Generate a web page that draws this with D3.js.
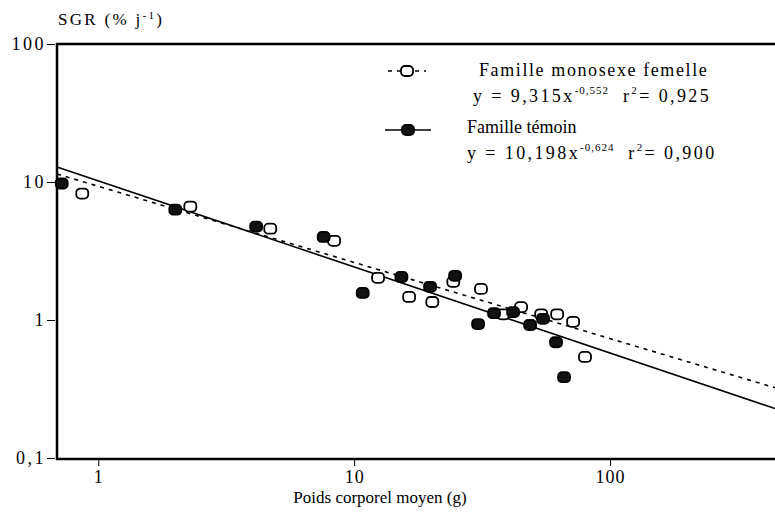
<!DOCTYPE html>
<html>
<head>
<meta charset="utf-8">
<script src="https://cdn.jsdelivr.net/npm/d3@7"></script>
<style>
  body { margin: 0; background: #fff; }
  #chart text, #chart tspan { font-family: "Liberation Serif", "DejaVu Serif", serif; }
</style>
</head>
<body>
<svg id="chart" width="775" height="519"></svg>
<script>
// poids moyen (g) et SGR (% j-1)
const temoinX = [0.72, 2.0, 4.14, 7.6, 10.8, 15.3, 19.8, 24.8, 30.5, 35.2, 41.8, 48.7, 54.7, 61.5, 66.1];
const temoinY = [9.75, 6.3, 4.75, 4.0, 1.57, 2.05, 1.74, 2.09, 0.935, 1.12, 1.14, 0.92, 1.02, 0.69, 0.385];
const femelleX = [0.866, 2.29, 4.7, 8.35, 12.4, 16.4, 20.2, 24.4, 31.3, 38.2, 44.9, 53.8, 62.1, 71.7, 79.8];
const femelleY = [8.25, 6.64, 4.59, 3.75, 2.02, 1.47, 1.35, 1.89, 1.68, 1.1, 1.24, 1.1, 1.1, 0.97, 0.54];

// y = a * x^b
const fitFemelle = { a: 9.315, b: -0.552 };
const fitTemoin = { a: 10.198, b: -0.624 };

const xTicks = [1, 10, 100];
const yTicks = [0.1, 1, 10, 100];
const xDomain = [0.69, 441];
const yDomain = [0.1, 100];

const svg = d3.select("#chart");
const plotLeft = 57, plotRight = 775, plotTop = 44, plotBottom = 458;

const x = d3.scaleLog().domain(xDomain).range([plotLeft, plotRight]);
const y = d3.scaleLog().domain(yDomain).range([plotBottom, plotTop]);
const fmt = d => String(d).replace(".", ",");

// axes
const yAxis = d3.axisLeft(y).tickValues(yTicks).tickFormat(fmt).tickSize(8).tickPadding(1);
const gy = svg.append("g").attr("transform", `translate(${plotLeft - 2},0)`).call(yAxis);
gy.select(".domain").remove();
gy.selectAll("text").style("font-size", "18px").style("letter-spacing", "2.5px");

const xAxis = d3.axisBottom(x).tickValues(xTicks).tickFormat(fmt).tickSize(7).tickPadding(4);
const gx = svg.append("g").attr("transform", `translate(0,${plotBottom + 1})`).call(xAxis);
gx.select(".domain").remove();
gx.selectAll("text").style("font-size", "18px").style("letter-spacing", "1px");

// cadre
svg.append("path")
    .attr("d", `M${plotRight},${plotTop}H${plotLeft}V${plotBottom + 1}H${plotRight}`)
    .attr("fill", "none")
    .attr("stroke", "#000")
    .attr("stroke-width", 2.5);

// titres
const yt = svg.append("text").attr("x", 58).attr("y", 25)
    .style("font-size", "17px").style("letter-spacing", "2.3px");
yt.append("tspan").text("SGR (% j");
yt.append("tspan").attr("dy", -6).style("font-size", "11px").text("-1");
yt.append("tspan").attr("dy", 6).text(")");

svg.append("text")
    .attr("x", 380).attr("y", 503)
    .attr("text-anchor", "middle")
    .style("font-size", "17px")
    .text("Poids corporel moyen (g)");

// droites de régression
const fitLine = f => d3.line()
    .x(d => x(d))
    .y(d => y(f.a * Math.pow(d, f.b)))(xDomain);

svg.append("path")
    .attr("d", fitLine(fitFemelle))
    .attr("fill", "none")
    .attr("stroke", "#000")
    .attr("stroke-width", 1.6)
    .attr("stroke-dasharray", "4,5");

svg.append("path")
    .attr("d", fitLine(fitTemoin))
    .attr("fill", "none")
    .attr("stroke", "#000")
    .attr("stroke-width", 1.6);

// points
function marker(g, cx, cy, filled) {
    g.append("rect")
        .attr("x", cx - 6).attr("y", cy - 5)
        .attr("width", 12).attr("height", 10)
        .attr("rx", 4).attr("ry", 4)
        .attr("fill", filled ? "#111" : "#fff")
        .attr("stroke", "#000")
        .attr("stroke-width", 1.8);
}

const pts = svg.append("g");
femelleX.forEach((d, i) => marker(pts, x(d), y(femelleY[i]), false));
temoinX.forEach((d, i) => marker(pts, x(d), y(temoinY[i]), true));

// légende
const lg = svg.append("g");
lg.append("line")
    .attr("x1", 388).attr("x2", 426).attr("y1", 71).attr("y2", 71)
    .attr("stroke", "#000").attr("stroke-width", 1.6).attr("stroke-dasharray", "4,5");
marker(lg, 407, 71, false);
lg.append("line")
    .attr("x1", 385).attr("x2", 431).attr("y1", 130).attr("y2", 130)
    .attr("stroke", "#000").attr("stroke-width", 1.6);
marker(lg, 408, 130, true);

function eqText(xp, yp, a, b, r2) {
    const t = lg.append("text").attr("x", xp).attr("y", yp)
        .style("font-size", "18px").style("letter-spacing", "2.4px");
    t.append("tspan").text(`y = ${a}x`);
    t.append("tspan").attr("dy", -8).style("font-size", "11px").style("letter-spacing", "1px").text(b);
    t.append("tspan").attr("dy", 8).attr("xml:space", "preserve").text("  r");
    t.append("tspan").attr("dy", -8).style("font-size", "11px").text("2");
    t.append("tspan").attr("dy", 8).text(`= ${r2}`);
}

lg.append("text").attr("x", 479).attr("y", 76)
    .style("font-size", "18px").style("letter-spacing", "1.6px")
    .text("Famille monosexe femelle");
eqText(473, 102, "9,315", "-0,552", "0,925");
lg.append("text").attr("x", 467).attr("y", 133)
    .style("font-size", "18px")
    .text("Famille témoin");
eqText(467, 159, "10,198", "-0,624", "0,900");
</script>
</body>
</html>
